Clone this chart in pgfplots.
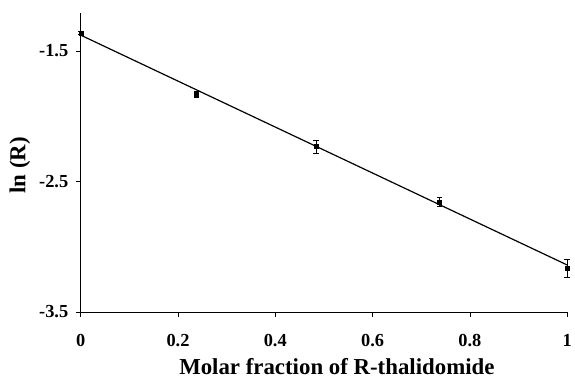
\documentclass[border=0pt]{standalone}
\usepackage{pgfplots}
\pgfplotsset{compat=1.18}
\usepackage{fontspec}
\setmainfont{Liberation Serif}
\begin{document}
\begin{tikzpicture}
\begin{axis}[
  scale only axis,
  width=488bp, height=300bp,
  xmin=0, xmax=1, ymin=-3.5, ymax=-1.21,
  axis lines*=left,
  axis line style={black, line width=0.6pt},
  xtick={0,0.2,0.4,0.6,0.8,1},
  ytick={-3.5,-2.5,-1.5},
  xticklabels={0,0.2,0.4,0.6,0.8,1},
  yticklabels={-3.5,-2.5,-1.5},
  /pgf/number format/assume math mode=true,
  tick align=outside,
  major tick length=5bp,
  tick style={black, line width=0.6pt},
  ticklabel style={font=\fontsize{18.5}{20}\selectfont\bfseries},
  xticklabel style={yshift=-14bp},
  yticklabel style={xshift=-4bp},
  label style={font=\fontsize{23}{26}\selectfont\bfseries},
  xlabel={Molar fraction of R-thalidomide},
  ylabel={ln (R)},
  xlabel style={at={(axis description cs:0.5,0)}, anchor=base, yshift=-63bp, xshift=13bp},
  ylabel style={at={(axis description cs:0,0.5)}, anchor=center, yshift=61bp, xshift=-3bp},
  clip=false,
]
\path (rel axis cs:0,0) ++(-81bp,-66bp);
\path (rel axis cs:1,1) ++(6bp,13bp);
\addplot[black, line width=1.2pt, no marks] coordinates {(0,-1.38) (1,-3.14)};
\addplot[black, only marks, mark=square*, mark size=2bp,
  error bars/.cd, y dir=both, y explicit,
  error bar style={line width=0.8pt},
  error mark options={rotate=90, mark size=2.8bp, line width=0.8pt}]
  coordinates {
  (0,-1.362) +- (0,0.01)
  (0.238,-1.836) +- (0,0.022)
  (0.484,-2.233) +- (0,0.05)
  (0.738,-2.66) +- (0,0.035)
  (1,-3.164) +- (0,0.07)
};
\end{axis}
\end{tikzpicture}
\end{document}
